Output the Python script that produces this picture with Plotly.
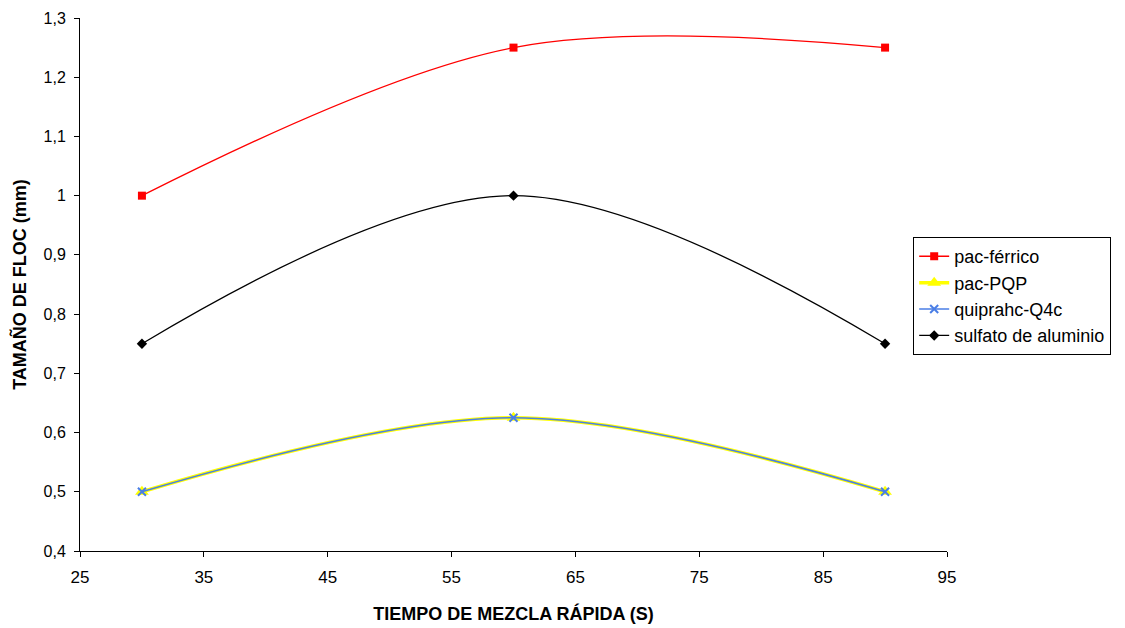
import plotly.graph_objects as go

tiempo = [30, 60, 90]
pac_ferrico = [1.0, 1.25, 1.25]
pac_pqp = [0.5, 0.625, 0.5]
quiprahc_q4c = [0.5, 0.625, 0.5]
sulfato_aluminio = [0.75, 1.0, 0.75]

y_ticks = [0.4, 0.5, 0.6, 0.7, 0.8, 0.9, 1.0, 1.1, 1.2, 1.3]
y_ticktext = ["0,4", "0,5", "0,6", "0,7", "0,8", "0,9", "1", "1,1", "1,2", "1,3"]
x_ticks = [25, 35, 45, 55, 65, 75, 85, 95]

FONT = "Liberation Sans, Arial, sans-serif"

fig = go.Figure()
fig.add_trace(go.Scatter(x=tiempo, y=pac_ferrico, name="pac-férrico", mode="lines+markers",
                         line=dict(color="#ff0000", width=1.3, shape="spline", smoothing=1),
                         marker=dict(symbol="square", size=8, color="#ff0000")))
fig.add_trace(go.Scatter(x=tiempo, y=pac_pqp, name="pac-PQP", mode="lines+markers",
                         line=dict(color="#ffff00", width=3.5, shape="spline", smoothing=1),
                         marker=dict(symbol="triangle-up", size=12, color="#ffff00")))
fig.add_trace(go.Scatter(x=tiempo, y=quiprahc_q4c, name="quiprahc-Q4c", mode="lines+markers",
                         line=dict(color="#4a7ee6", width=1.5, shape="spline", smoothing=1),
                         marker=dict(symbol="x-thin", size=8, color="#4a7ee6",
                                     line=dict(color="#4a7ee6", width=2))))
fig.add_trace(go.Scatter(x=tiempo, y=sulfato_aluminio, name="sulfato de aluminio", mode="lines+markers",
                         line=dict(color="#000000", width=1.3, shape="spline", smoothing=1),
                         marker=dict(symbol="diamond", size=8, color="#000000")))

fig.update_layout(
    width=1125, height=628,
    paper_bgcolor="white", plot_bgcolor="white",
    margin=dict(l=72, r=186, t=10, b=85, autoexpand=False),
    font=dict(family=FONT, size=16, color="#000000"),
    showlegend=True,
    legend=dict(x=0.961, y=0.589, xanchor="left", yanchor="top",
                bordercolor="#000000", borderwidth=1, bgcolor="white",
                font=dict(size=18), tracegroupgap=0, itemwidth=30),
    xaxis=dict(range=[25, 95], tickvals=x_ticks, showgrid=False, zeroline=False,
               showline=True, linecolor="#000000", linewidth=1,
               ticks="outside", ticklen=5, tickcolor="#000000",
               tickfont=dict(size=17), ticklabelstandoff=6, automargin=False,
               title=dict(text="<b>TIEMPO DE MEZCLA RÁPIDA (S)</b>", font=dict(size=18), standoff=20)),
    yaxis=dict(range=[0.4, 1.3], tickvals=y_ticks, ticktext=y_ticktext, showgrid=False, zeroline=False,
               showline=True, linecolor="#000000", linewidth=1,
               ticks="outside", ticklen=5, tickcolor="#000000",
               tickfont=dict(size=16), ticklabelstandoff=5, automargin=False,
               title=dict(text="<b>TAMAÑO DE FLOC (mm)</b>", font=dict(size=18), standoff=12)),
)

fig.write_html("out.html")
